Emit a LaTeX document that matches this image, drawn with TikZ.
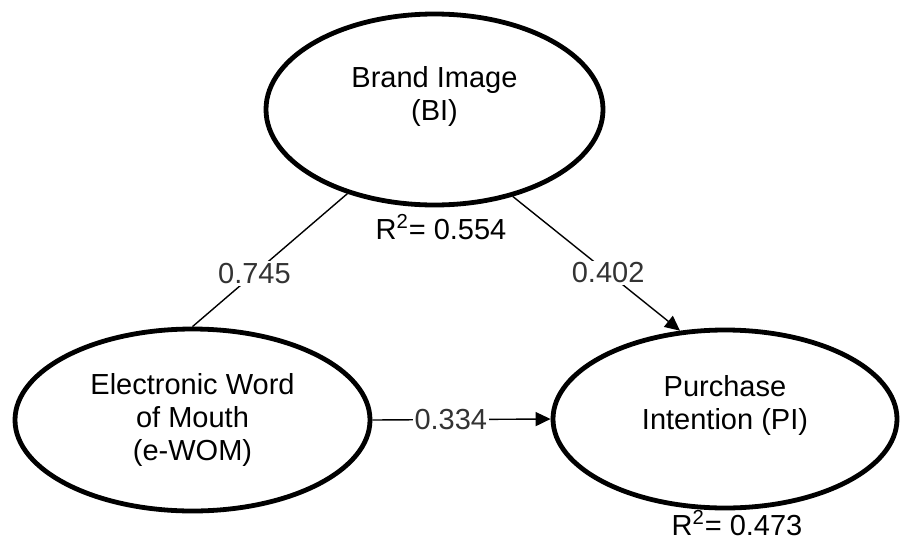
\documentclass[tikz,border=0pt]{standalone}
\usepackage{fontspec}
\setmainfont{Liberation Sans}
\usetikzlibrary{arrows.meta, shapes.geometric}
\definecolor{coefgray}{HTML}{333333}

\begin{document}
\begin{tikzpicture}[x=0.5pt, y=-0.5pt, font=\fontsize{14.5}{16.5}\selectfont,
    latent node/.style={ellipse, draw, line width=2.4pt, align=center, inner sep=0pt},
    coef node/.style={fill=white, text=coefgray, inner sep=1pt},
    r2 node/.style={inner sep=0pt},
    rel/.style={line width=0.7pt},
    effect/.style={rel, -{Triangle[length=7.5pt, width=7pt]}}]
\useasboundingbox (0,0) rectangle (900,541);
\node[latent node, minimum width=168.5pt, minimum height=95.5pt] (BI) at (434.5,109.5) {Brand Image\\(BI)\\~};
\node[latent node, minimum width=177.5pt, minimum height=91pt] (eWOM) at (192.5,420) {Electronic Word\\of Mouth\\(e-WOM)};
\node[latent node, minimum width=172pt, minimum height=89pt] (PI) at (725,419) {Purchase\\Intention (PI)\\~};
\node[r2 node] (BIr2) at (441,227) {R\textsuperscript{2}= 0.554};
\node[r2 node] (PIr2) at (737,523) {R\textsuperscript{2}= 0.473};
\draw[rel] (BI.224) -- node[coef node, pos=0.6] (c1) {0.745} (eWOM.north);
\draw[effect] (BI.-48) -- node[coef node, pos=0.57] (c2) {0.402} (PI.117);
\draw[effect] (eWOM.east) -- node[coef node, pos=0.44] (c3) {0.334} (PI.west);
\end{tikzpicture}
\end{document}
